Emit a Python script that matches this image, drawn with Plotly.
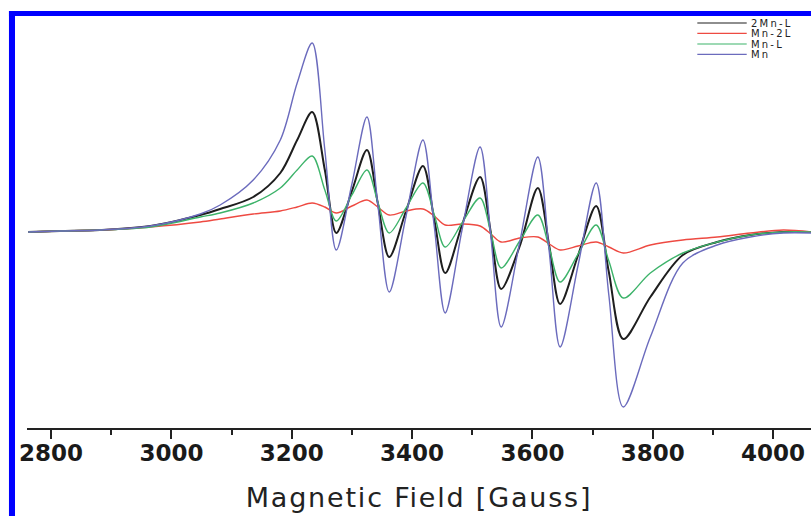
import plotly.graph_objects as go

# magnetic field (G) and first-derivative EPR intensity (arb. units)
field = [2762, 2815, 2881, 2965, 3048, 3081, 3136, 3181, 3209, 3234,
         3255, 3274, 3300, 3325, 3343, 3362, 3390, 3418, 3437, 3455,
         3483, 3513, 3531, 3548, 3579, 3609, 3628, 3646, 3676, 3706,
         3727, 3751, 3796, 3850, 3907, 3962, 4017, 4063]

mn2_l = [0, 1, 2, 6, 17, 23, 35, 59, 92, 120,
         62, -1, 41, 82, 29, -25, 21, 66, 12, -41,
         7, 55, -1, -57, -14, 44, -14, -72, -23, 26,
         -40, -107, -65, -23, -10, -3, 0, 0]

mn_2l = [0, 1, 2, 5, 10, 13, 18, 21, 25, 29,
         25, 19, 26, 32, 25, 17, 21, 23, 16, 7,
         8, 6, -2, -10, -6, -5, -12, -18, -14, -10,
         -15, -21, -13, -8, -5, -1, 2, 0]

mn_l = [0, 1, 2, 5, 15, 19, 29, 44, 62, 76,
        42, 11, 37, 62, 30, -1, 24, 49, 17, -15,
        9, 34, -1, -36, -9, 17, -16, -50, -22, 7,
        -29, -66, -41, -21, -10, -3, 0, 0]

mn = [0, 1, 2, 6, 18, 27, 52, 92, 149, 189,
      82, -18, 48, 115, 28, -60, 16, 92, 5, -81,
      2, 85, -5, -95, -10, 75, -20, -115, -33, 49,
      -63, -175, -105, -31, -13, -5, -1, -1]

names = ["2Mn-L", "Mn-2L", "Mn-L", "Mn"]
series = [mn2_l, mn_2l, mn_l, mn]
colors = ["#1e1e1e", "#ee4a42", "#3db36a", "#6b6bbd"]
widths = [2, 1.4, 1.4, 1.4]

fig = go.Figure()
for name, ys, c, w in zip(names, series, colors, widths):
    fig.add_trace(go.Scatter(x=field, y=ys, name=name, mode="lines",
                             line=dict(color=c, width=w, shape="spline", smoothing=0.9)))

# hand-made legend (tight rows like the original)
leg_y = [0.983, 0.958, 0.932, 0.907]
for name, c, yy in zip(names, colors, leg_y):
    fig.add_shape(type="line", xref="paper", yref="paper", x0=0.855, x1=0.918, y0=yy, y1=yy,
                  line=dict(color=c, width=1.2))
    fig.add_annotation(xref="paper", yref="paper", x=0.921, y=yy, xanchor="left", yanchor="middle",
                       text='<span style="letter-spacing:2.2px">%s</span>' % name, showarrow=False,
                       font=dict(family="DejaVu Sans", size=10, color="#222"))

# blue frame on left and top
fig.add_shape(type="rect", xref="paper", yref="paper", x0=-0.023, x1=-0.0153, y0=-0.3, y1=1.0121,
              fillcolor="#0000ff", line_width=0, layer="above")
fig.add_shape(type="rect", xref="paper", yref="paper", x0=-0.023, x1=1.02, y0=1.0, y1=1.0121,
              fillcolor="#0000ff", line_width=0, layer="above")

fig.update_xaxes(range=[2760, 4063], tick0=2800, dtick=200,
                 showline=True, linewidth=2, linecolor="#222",
                 ticks="outside", ticklen=9, tickwidth=2, tickcolor="#222",
                 minor=dict(ticks="outside", dtick=100, ticklen=5, tickwidth=2, tickcolor="#222"),
                 showgrid=False, zeroline=False, ticklabelstandoff=-6,
                 tickfont=dict(family="DejaVu Sans", size=23, color="#1a1a1a", weight="bold"),
                 title=dict(text='<span style="letter-spacing:1.8px">Magnetic Field [Gauss]</span>',
                            standoff=24,
                            font=dict(family="DejaVu Sans", size=27, color="#222")))
fig.update_yaxes(range=[-196, 216], visible=False)
fig.update_layout(width=811, height=516, showlegend=False,
                  margin=dict(l=27, r=0, t=16, b=88),
                  plot_bgcolor="white", paper_bgcolor="white")
fig.write_html("out.html", config={"displayModeBar": False},
               post_script="document.body.style.margin='0px';")
